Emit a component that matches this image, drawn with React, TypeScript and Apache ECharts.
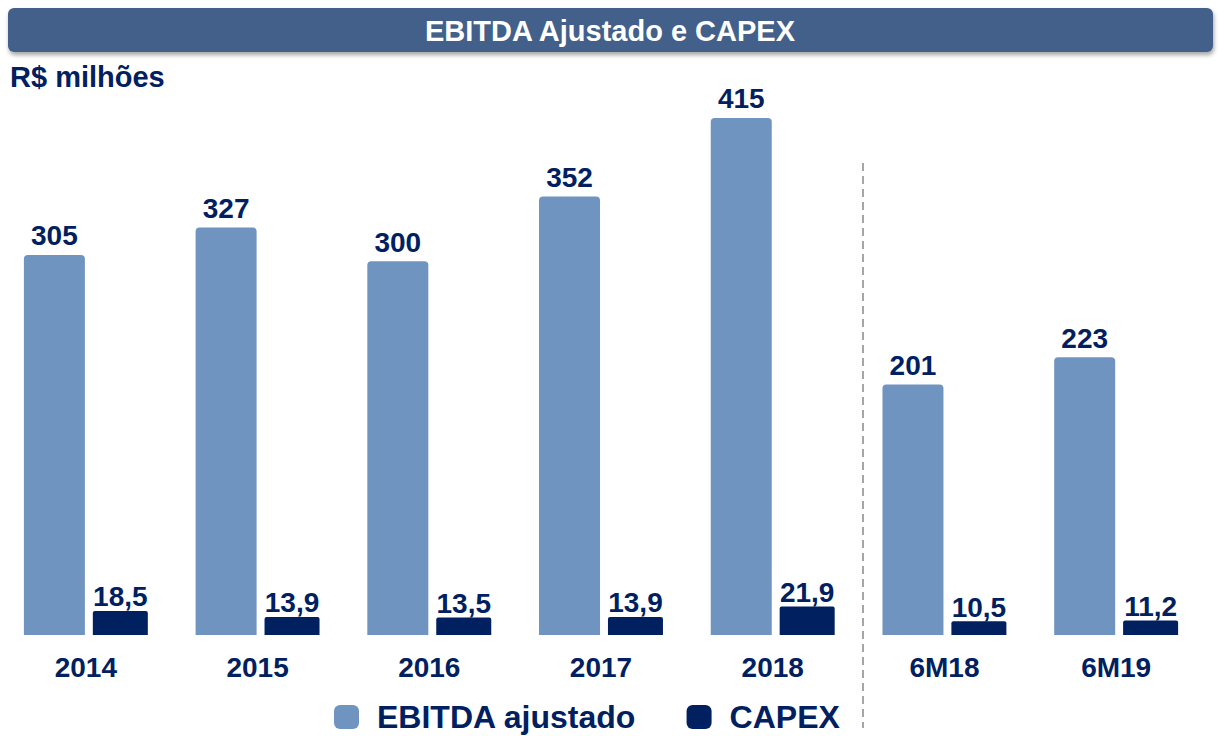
import React, { useEffect, useRef } from "react";
import * as echarts from "echarts";

const categories = ["2014", "2015", "2016", "2017", "2018", "6M18", "6M19"];
const ebitda = [305, 327, 300, 352, 415, 201, 223];
const capex = [18.5, 13.9, 13.5, 13.9, 21.9, 10.5, 11.2];
const seriesNames = ["EBITDA ajustado", "CAPEX"];
const titleText = "EBITDA Ajustado e CAPEX";
const unitText = "R$ milhões";

const NAVY = "#002060";
const LIGHT = "#7094C0";
const FONT = "'Liberation Sans', Arial, sans-serif";

export default function App() {
  const ref = useRef<HTMLDivElement>(null);
  useEffect(() => {
    if (!ref.current) return;
    const chart = echarts.init(ref.current, null, { renderer: "svg" });
    const fmt = (v: number) => String(v).replace(".", ",");
    chart.setOption({
      animation: false,
      backgroundColor: "#ffffff",
      textStyle: { fontFamily: FONT },
      grid: { left: 0, right: 16, top: 12, bottom: 101, containLabel: false },
      xAxis: {
        type: "category",
        data: categories,
        axisLine: { show: false },
        axisTick: { show: false },
        axisLabel: {
          color: NAVY,
          fontSize: 28,
          fontWeight: "bold",
          fontFamily: FONT,
          margin: 18,
        },
      },
      yAxis: [
        { type: "value", min: 0, max: 500, show: false },
        { type: "value", min: 0, max: 480, show: false },
      ],
      legend: {
        left: 334,
        top: 700,
        padding: 0,
        itemWidth: 25,
        itemHeight: 24,
        itemGap: 50,
        icon: "roundRect",
        textStyle: {
          color: NAVY,
          fontSize: 32,
          lineHeight: 32,
          fontWeight: "bold",
          fontFamily: FONT,
          padding: [2, 0, 0, 13],
        },
        data: seriesNames,
      },
      series: [
        {
          name: seriesNames[0],
          type: "bar",
          yAxisIndex: 0,
          data: ebitda,
          barWidth: 61,
          barGap: "13%",
          itemStyle: { color: LIGHT, borderRadius: [4, 4, 0, 0] },
          label: {
            show: true,
            position: "top",
            distance: 5,
            color: NAVY,
            fontSize: 28,
            fontWeight: "bold",
            fontFamily: FONT,
            formatter: (p: any) => fmt(p.value),
          },
        },
        {
          name: seriesNames[1],
          type: "bar",
          yAxisIndex: 1,
          data: capex,
          barWidth: 55,
          itemStyle: { color: NAVY, borderRadius: [2, 2, 0, 0] },
          label: {
            show: true,
            position: "top",
            distance: 0,
            color: NAVY,
            fontSize: 28,
            fontWeight: "bold",
            fontFamily: FONT,
            formatter: (p: any) => fmt(p.value),
          },
        },
      ],
      graphic: [
        {
          type: "rect",
          shape: { x: 8, y: 8, width: 1205, height: 44, r: 6 },
          style: {
            fill: "#42608A",
            shadowBlur: 4,
            shadowOffsetX: 1,
            shadowOffsetY: 3,
            shadowColor: "rgba(0,0,0,0.35)",
          },
          z: 10,
        },
        {
          type: "text",
          x: 610,
          y: 31,
          style: {
            text: titleText,
            fill: "#ffffff",
            font: `bold 29px ${FONT}`,
            textAlign: "center",
            textVerticalAlign: "middle",
          },
          z: 11,
        },
        {
          type: "text",
          x: 10,
          y: 77,
          style: {
            text: unitText,
            fill: NAVY,
            font: `bold 29px ${FONT}`,
            textAlign: "left",
            textVerticalAlign: "middle",
          },
          z: 11,
        },
        {
          type: "line",
          shape: { x1: 863, y1: 163, x2: 863, y2: 728 },
          style: { stroke: "#A6A6A6", lineWidth: 2, lineDash: [8, 5] },
          z: 5,
        },
      ],
    });
    return () => chart.dispose();
  }, []);
  return (
    <div
      ref={ref}
      style={{ position: "fixed", left: 0, top: 0, width: 1218, height: 736 }}
    />
  );
}
